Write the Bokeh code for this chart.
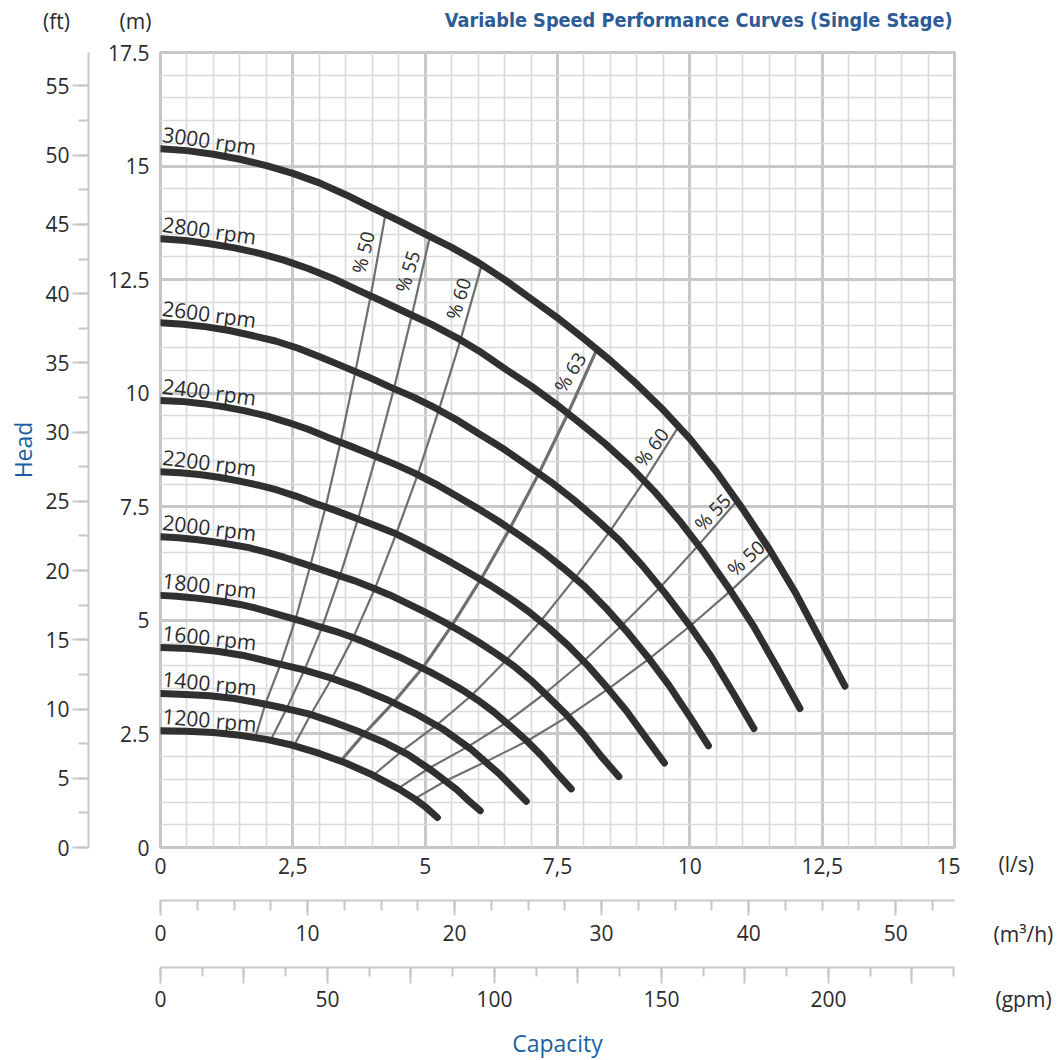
from bokeh.plotting import figure
from bokeh.models import Range1d, LinearAxis, FixedTicker, Grid, Title, ColumnDataSource
from bokeh.layouts import column, row
from bokeh.embed import file_html
from bokeh.resources import INLINE
from bokeh.core.properties import value

FONT = "Open Sans"
NARROW = "Liberation Sans Narrow, DejaVu Sans Condensed, Roboto Condensed, sans-serif"
TXT = "#2b2b2b"
BLUE = "#1b5fa3"

# ---------------- data ----------------
# pump curves at each speed: capacity (l/s) -> head (m)
speeds = [3000, 2800, 2600, 2400, 2200, 2000, 1800, 1600, 1400, 1200]
q_3000 = [0, 0.5, 1, 1.5, 2, 2.5, 3, 3.5, 4, 4.5, 5, 5.5, 6, 6.5, 7, 7.5, 8, 8.5, 9, 9.5, 10,
          10.5, 11, 11.5, 12, 12.5, 12.93]
h_3000 = [15.38, 15.34, 15.26, 15.15, 15.01, 14.84, 14.63, 14.37, 14.08, 13.80, 13.50, 13.21,
          12.88, 12.50, 12.08, 11.66, 11.20, 10.72, 10.20, 9.63, 9.00, 8.27, 7.45, 6.57, 5.60,
          4.50, 3.55]
q_2800 = [0, 0.47, 0.93, 1.40, 1.87, 2.33, 2.80, 3.27, 3.73, 4.20, 4.67, 5.13, 5.60, 6.07, 6.53,
          7.00, 7.47, 7.93, 8.40, 8.87, 9.33, 9.80, 10.27, 10.73, 11.20, 11.67, 12.08]
h_2800 = [13.40, 13.36, 13.29, 13.20, 13.08, 12.93, 12.74, 12.52, 12.27, 12.02, 11.76, 11.51,
          11.22, 10.89, 10.52, 10.16, 9.76, 9.34, 8.89, 8.39, 7.84, 7.20, 6.49, 5.72, 4.88,
          3.92, 3.06]
q_2600 = [0, 0.43, 0.87, 1.30, 1.73, 2.17, 2.60, 3.03, 3.47, 3.90, 4.33, 4.77, 5.20, 5.63, 6.07,
          6.50, 6.93, 7.37, 7.80, 8.23, 8.67, 9.10, 9.53, 9.97, 10.40, 10.83, 11.21]
h_2600 = [11.55, 11.52, 11.46, 11.38, 11.27, 11.15, 10.99, 10.79, 10.58, 10.37, 10.14, 9.92,
          9.67, 9.39, 9.07, 8.76, 8.41, 8.05, 7.66, 7.23, 6.76, 6.21, 5.60, 4.93, 4.21, 3.38,
          2.62]
q_2400 = [0, 0.4, 0.8, 1.2, 1.6, 2.0, 2.4, 2.8, 3.2, 3.6, 4.0, 4.4, 4.8, 5.2, 5.6, 6.0, 6.4, 6.8,
          7.2, 7.6, 8.0, 8.4, 8.8, 9.2, 9.6, 10.0, 10.35]
h_2400 = [9.84, 9.82, 9.77, 9.70, 9.61, 9.50, 9.36, 9.20, 9.01, 8.83, 8.64, 8.45, 8.24, 8.00,
          7.73, 7.46, 7.17, 6.86, 6.53, 6.16, 5.76, 5.29, 4.77, 4.20, 3.58, 2.88, 2.24]
q_2200 = [0, 0.37, 0.73, 1.10, 1.47, 1.83, 2.20, 2.57, 2.93, 3.30, 3.67, 4.03, 4.40, 4.77, 5.13,
          5.50, 5.87, 6.23, 6.60, 6.97, 7.33, 7.70, 8.07, 8.43, 8.80, 9.17, 9.52]
h_2200 = [8.27, 8.25, 8.21, 8.15, 8.07, 7.98, 7.87, 7.73, 7.57, 7.42, 7.26, 7.10, 6.93, 6.72,
          6.50, 6.27, 6.02, 5.77, 5.49, 5.18, 4.84, 4.45, 4.01, 3.53, 3.01, 2.42, 1.86]
q_2000 = [0, 0.33, 0.67, 1.00, 1.33, 1.67, 2.00, 2.33, 2.67, 3.00, 3.33, 3.67, 4.00, 4.33, 4.67,
          5.00, 5.33, 5.67, 6.00, 6.33, 6.67, 7.00, 7.33, 7.67, 8.00, 8.33, 8.66]
h_2000 = [6.84, 6.82, 6.78, 6.73, 6.67, 6.60, 6.50, 6.39, 6.26, 6.13, 6.00, 5.87, 5.72, 5.56,
          5.37, 5.18, 4.98, 4.76, 4.53, 4.28, 4.00, 3.68, 3.31, 2.92, 2.49, 2.00, 1.56]
q_1800 = [0, 0.3, 0.6, 0.9, 1.2, 1.5, 1.8, 2.1, 2.4, 2.7, 3.0, 3.3, 3.6, 3.9, 4.2, 4.5, 4.8,
          5.1, 5.4, 5.7, 6.0, 6.3, 6.6, 6.9, 7.2, 7.5, 7.76]
h_1800 = [5.55, 5.53, 5.50, 5.46, 5.41, 5.35, 5.27, 5.17, 5.07, 4.97, 4.86, 4.76, 4.64, 4.50,
          4.35, 4.20, 4.03, 3.86, 3.67, 3.47, 3.24, 2.98, 2.68, 2.37, 2.02, 1.62, 1.29]
q_1600 = [0, 0.53, 1.07, 1.60, 2.13, 2.67, 3.20, 3.73, 4.27, 4.80, 5.33, 5.87, 6.40, 6.67, 6.91]
h_1600 = [4.40, 4.38, 4.32, 4.22, 4.07, 3.92, 3.74, 3.52, 3.26, 2.96, 2.61, 2.16, 1.62, 1.30, 1.02]
q_1400 = [0, 0.47, 0.93, 1.40, 1.87, 2.33, 2.80, 3.27, 3.73, 4.20, 4.67, 5.13, 5.60, 5.83, 6.04]
h_1400 = [3.39, 3.37, 3.34, 3.28, 3.18, 3.07, 2.94, 2.76, 2.56, 2.33, 2.05, 1.69, 1.27, 1.02, 0.81]
q_1200 = [0, 0.5, 1.0, 1.5, 2.0, 2.5, 3.0, 3.5, 4.0, 4.5, 4.8, 5.0, 5.23]
h_1200 = [2.57, 2.56, 2.53, 2.47, 2.38, 2.25, 2.07, 1.86, 1.60, 1.29, 1.07, 0.90, 0.66]

# iso-efficiency lines, from the 3000 rpm curve down to the 1200 rpm curve
eff_labels = ["% 50", "% 55", "% 60", "% 63", "% 60", "% 55", "% 50"]
q_e50a = [4.25, 3.97, 3.68, 3.40, 3.12, 2.83, 2.55, 2.27, 1.98, 1.79]
h_e50a = [13.94, 12.14, 10.47, 8.92, 7.50, 6.20, 5.02, 4.04, 3.16, 2.42]
q_e55a = [5.09, 4.75, 4.41, 4.07, 3.73, 3.39, 3.05, 2.72, 2.38, 2.08]
h_e55a = [13.45, 11.72, 10.10, 8.61, 7.23, 5.98, 4.84, 3.91, 3.05, 2.36]
q_e60a = [6.07, 5.67, 5.26, 4.86, 4.45, 4.05, 3.64, 3.24, 2.83, 2.52]
h_e60a = [12.83, 11.18, 9.64, 8.21, 6.90, 5.70, 4.62, 3.73, 2.91, 2.24]
q_e63 = [8.245, 7.70, 7.15, 6.60, 6.05, 5.50, 4.95, 4.40, 3.85, 3.40]
h_e63 = [10.97, 9.56, 8.24, 7.02, 5.90, 4.88, 3.95, 3.19, 2.51, 1.90]
q_e60b = [9.79, 9.14, 8.49, 7.83, 7.18, 6.53, 5.87, 5.22, 4.57, 4.02]
h_e60b = [9.27, 8.07, 6.96, 5.93, 4.98, 4.12, 3.34, 2.70, 2.13, 1.59]
q_e55b = [10.89, 10.16, 9.44, 8.71, 7.99, 7.26, 6.53, 5.81, 5.08, 4.49]
h_e55b = [7.63, 6.65, 5.73, 4.88, 4.10, 3.39, 2.75, 2.22, 1.75, 1.30]
q_e50b = [11.54, 10.77, 10.00, 9.23, 8.46, 7.69, 6.92, 6.15, 5.39, 4.80]
h_e50b = [6.49, 5.65, 4.87, 4.15, 3.49, 2.88, 2.34, 1.89, 1.47, 1.07]

# label anchors (data coords) and rotations
rpm_label_x = [0.04] * 10
rpm_label_y = [15.71, 13.73, 11.88, 10.17, 8.60, 7.17, 5.88, 4.73, 3.72, 2.90]
rpm_label_angle = [-8, -8, -7.5, -7.5, -7, -7, -6.5, -6, -5.5, -5]
eff_label_x = [3.83, 4.67, 5.63, 7.74, 9.28, 10.43, 11.06]
eff_label_y = [13.10, 12.68, 12.08, 10.46, 8.81, 7.38, 6.37]
eff_label_angle = [76, 73, 72, 58, 53, 46, 42]

# axis ticks / labels
q_ticks = [0, 2.5, 5, 7.5, 10, 12.5, 15]
q_tick_labels = ["0", "2,5", "5", "7,5", "10", "12,5", "15"]
q_minor = [i * 0.5 for i in range(31)]
m_ticks = [0, 2.5, 5, 7.5, 10, 12.5, 15, 17.5]
m_tick_labels = ["0", "2.5", "5", "7.5", "10", "12.5", "15", "17.5"]
m_minor = [i * 0.5 for i in range(36)]
ft_ticks = [0, 5, 10, 15, 20, 25, 30, 35, 40, 45, 50, 55]
ft_minor = [i * 2.5 for i in range(23)]
m3h_ticks = [0, 10, 20, 30, 40, 50]
m3h_minor = [i * 2.5 for i in range(22)]
gpm_ticks = [0, 25, 50, 75, 100, 125, 150, 175, 200, 225]
gpm_tick_labels = ["0", "", "50", "", "100", "", "150", "", "200", ""]
gpm_minor = [i * 12.5 for i in range(20)]

M_TO_FT = 1 / 0.3048
LS_TO_M3H = 3.6
LS_TO_GPM = 15.8503

common = dict(output_backend="svg", toolbar_location=None, x_axis_type=None, y_axis_type=None)

# page strips: header 0-34, chart 34-1022, footer 1022-1060
HEAD_H, MAIN_H, FOOT_H = 34, 988, 38

# ---------------- header strip (unit captions + title) ----------------
header = figure(width=1060, height=HEAD_H, x_range=Range1d(0, 1060), y_range=Range1d(HEAD_H, 0),
                min_border=0, **common)
header.outline_line_color = None
header.frame_align = False
header.text(x=[56, 135], y=[20, 20], text=["(ft)", "(m)"], text_font=value(FONT),
            text_font_size="21px", text_color=TXT, text_align="center", text_baseline="middle")
header.text(x=[952], y=[20], text=["Variable Speed Performance Curves (Single Stage)"],
            text_font=value(NARROW), text_font_size="19.7px", text_font_style="bold",
            text_color="#2d5b95", text_align="right", text_baseline="middle")

# ---------------- main chart ----------------
p = figure(width=960, height=MAIN_H, x_range=Range1d(0, 15), y_range=Range1d(0, 17.5),
           min_border_left=160, min_border_right=6, min_border_top=18, min_border_bottom=175,
           **common)
p.frame_align = False
p.outline_line_color = "#c6c6c8"
p.outline_line_width = 3
p.extra_x_ranges = {"m3h": Range1d(0, 15 * LS_TO_M3H), "gpm": Range1d(0, 15 * LS_TO_GPM)}
p.extra_y_ranges = {"ft": Range1d(0, 17.5 * M_TO_FT)}

xt = FixedTicker(ticks=q_ticks, minor_ticks=q_minor)
yt = FixedTicker(ticks=m_ticks, minor_ticks=m_minor)
for dim, tk in ((0, xt), (1, yt)):
    p.add_layout(Grid(dimension=dim, ticker=tk, grid_line_color="#c8c8ca", grid_line_width=3,
                      minor_grid_line_color="#dadadc", minor_grid_line_width=1.6))

lab = dict(major_label_text_font=FONT, major_label_text_font_size="21px",
           major_label_text_color=TXT)
gray_axis = dict(axis_line_color="#c8c8ca", axis_line_width=2,
                 major_tick_line_color="#c8c8ca", major_tick_line_width=2,
                 minor_tick_line_color="#c8c8ca", minor_tick_line_width=2,
                 major_tick_in=0, minor_tick_in=0)

ax_m = LinearAxis(ticker=yt, major_label_overrides=dict(zip(m_ticks, m_tick_labels)),
                  axis_line_color=None, major_tick_line_color=None, minor_tick_line_color=None,
                  major_label_standoff=5, axis_label="\u00a0", axis_label_text_font_size="10px",
                  axis_label_standoff=2, **lab)
p.add_layout(ax_m, "left")
ax_ft = LinearAxis(y_range_name="ft", ticker=FixedTicker(ticks=ft_ticks, minor_ticks=ft_minor),
                   major_label_overrides={t: str(t) for t in ft_ticks},
                   major_tick_out=16, minor_tick_out=10, major_label_standoff=3,
                   **gray_axis, **lab)
p.add_layout(ax_ft, "left")
p.add_layout(Title(text="Head", align="center", text_font=FONT, text_font_size="23px",
                   text_font_style="normal", text_color=BLUE, standoff=7), "left")

ax_q = LinearAxis(ticker=xt, major_label_overrides=dict(zip(q_ticks, q_tick_labels)),
                  axis_line_color=None, major_tick_line_color=None, minor_tick_line_color=None,
                  major_label_standoff=4, axis_label="\u00a0", axis_label_text_font_size="12px",
                  axis_label_standoff=7, **lab)
p.add_layout(ax_q, "below")
ax_m3 = LinearAxis(x_range_name="m3h", ticker=FixedTicker(ticks=m3h_ticks, minor_ticks=m3h_minor),
                   major_label_overrides={t: str(t) for t in m3h_ticks},
                   major_tick_out=15, minor_tick_out=10, major_label_standoff=9,
                   axis_label="\u00a0", axis_label_text_font_size="10px", axis_label_standoff=10,
                   **gray_axis, **lab)
p.add_layout(ax_m3, "below")
ax_g = LinearAxis(x_range_name="gpm", ticker=FixedTicker(ticks=gpm_ticks, minor_ticks=gpm_minor),
                  major_label_overrides=dict(zip(gpm_ticks, gpm_tick_labels)),
                  major_tick_out=16, minor_tick_out=9, major_label_standoff=7,
                  **gray_axis, **lab)
p.add_layout(ax_g, "below")

# efficiency lines
eff_q = [q_e50a, q_e55a, q_e60a, q_e63, q_e60b, q_e55b, q_e50b]
eff_h = [h_e50a, h_e55a, h_e60a, h_e63, h_e60b, h_e55b, h_e50b]
eff_w = [2.2, 2.2, 2.2, 3.2, 2.2, 2.2, 2.2]
for q, h, w in zip(eff_q, eff_h, eff_w):
    p.line(q, h, line_color="#6f6f71", line_width=w, line_cap="round", line_join="round")

# speed curves
curves_q = [q_3000, q_2800, q_2600, q_2400, q_2200, q_2000, q_1800, q_1600, q_1400, q_1200]
curves_h = [h_3000, h_2800, h_2600, h_2400, h_2200, h_2000, h_1800, h_1600, h_1400, h_1200]
for q, h in zip(curves_q, curves_h):
    p.line(q, h, line_color="#303030", line_width=7, line_cap="round", line_join="round")

rpm_src = ColumnDataSource(dict(x=rpm_label_x, y=rpm_label_y, a=rpm_label_angle,
                                t=[f"{s} rpm" for s in speeds]))
p.text(x="x", y="y", text="t", angle="a", angle_units="deg", source=rpm_src,
       text_font=value(FONT), text_font_size="21px", text_color=TXT,
       text_align="left", text_baseline="middle")

eff_src = ColumnDataSource(dict(x=eff_label_x, y=eff_label_y, a=eff_label_angle, t=eff_labels))
p.text(x="x", y="y", text="t", angle="a", angle_units="deg", source=eff_src,
       text_font=value(FONT), text_font_size="19px", text_color=TXT,
       text_align="center", text_baseline="middle")

# ---------------- unit captions on the right (page coordinates) ----------------
units = figure(width=100, height=MAIN_H, x_range=Range1d(960, 1060),
               y_range=Range1d(HEAD_H + MAIN_H, HEAD_H), min_border=0, **common)
units.frame_align = False
units.outline_line_color = None
units.text(x=[998, 993, 995], y=[863, 933, 998], text=["(l/s)", "(m\u00b3/h)", "(gpm)"],
           text_font=value(FONT), text_font_size="21px", text_color=TXT,
           text_align="left", text_baseline="middle")

# ---------------- footer (axis title) ----------------
footer = figure(width=1060, height=FOOT_H, x_range=Range1d(0, 1060),
                y_range=Range1d(HEAD_H + MAIN_H + FOOT_H, HEAD_H + MAIN_H), min_border=0, **common)
footer.frame_align = False
footer.outline_line_color = None
footer.text(x=[557], y=[1042], text=["Capacity"], text_font=value(FONT), text_font_size="23px",
            text_color=BLUE, text_align="center", text_baseline="middle")

layout = column(header, row(p, units, spacing=0), footer, spacing=0)
open("out.html", "w").write(file_html(layout, INLINE))
